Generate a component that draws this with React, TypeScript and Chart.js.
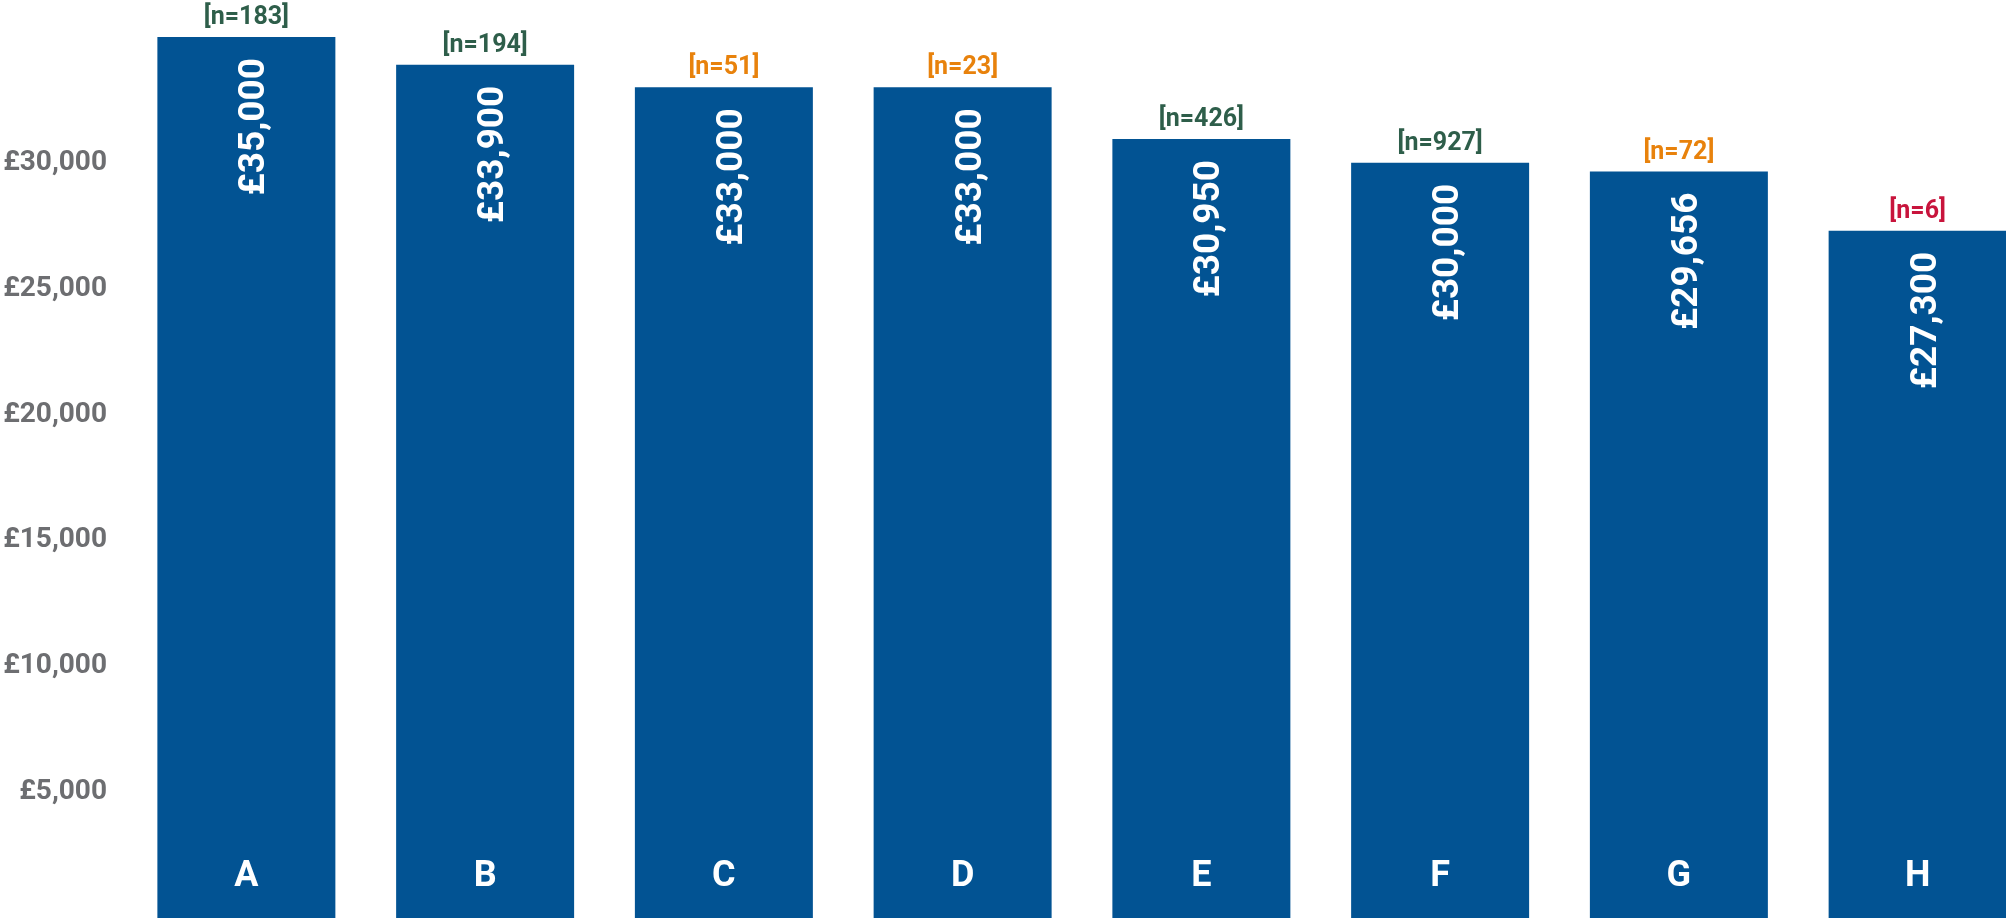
import React, { useEffect, useRef } from "react";
import { Chart, registerables } from "chart.js";

Chart.register(...registerables);

const categories = ["A", "B", "C", "D", "E", "F", "G", "H"];
const salaries = [35000, 33900, 33000, 33000, 30950, 30000, 29656, 27300];
const sampleSizes = [183, 194, 51, 23, 426, 927, 72, 6];
const sampleColours = [
  "#2e5e4a",
  "#2e5e4a",
  "#e8820c",
  "#e8820c",
  "#2e5e4a",
  "#2e5e4a",
  "#e8820c",
  "#c8143c",
];
const yTickValues = [5000, 10000, 15000, 20000, 25000, 30000];

const BAR_BLUE = "#025393";
const FONT = "Roboto, 'Noto Sans', sans-serif";

const fmt = (v: number) => "£" + v.toLocaleString("en-GB");

const labelPlugin = {
  id: "barLabels",
  afterDatasetsDraw(chart: any) {
    const ctx = chart.ctx as CanvasRenderingContext2D;
    const meta = chart.getDatasetMeta(0);
    meta.data.forEach((bar: any, i: number) => {
      const x = bar.x;
      const top = bar.y;
      const base = bar.base;
      ctx.save();
      // n labels above bars
      ctx.font = `bold 25px ${FONT}`;
      ctx.fillStyle = sampleColours[i];
      ctx.textAlign = "center";
      ctx.textBaseline = "alphabetic";
      ctx.fillText(`[n=${sampleSizes[i]}]`, x, top - 13);
      // category letters inside bar bottom
      ctx.font = `bold 36px ${FONT}`;
      ctx.fillStyle = "#ffffff";
      ctx.fillText(categories[i], x, base - 32);
      // rotated value labels
      ctx.translate(x, top + 21);
      ctx.rotate(-Math.PI / 2);
      ctx.textAlign = "right";
      ctx.textBaseline = "alphabetic";
      ctx.font = `bold 37px ${FONT}`;
      ctx.fillText(fmt(salaries[i]), 0, 18);
      ctx.restore();
    });
  },
};

export default function App() {
  const canvasRef = useRef<HTMLCanvasElement | null>(null);

  useEffect(() => {
    if (!canvasRef.current) return;
    const chart = new Chart(canvasRef.current, {
      type: "bar",
      data: {
        labels: categories,
        datasets: [
          {
            data: salaries,
            backgroundColor: BAR_BLUE,
            borderWidth: 0,
            categoryPercentage: 1,
            barPercentage: 0.7455,
          },
        ],
      },
      options: {
        animation: false,
        responsive: false,
        devicePixelRatio: 1,
        layout: { padding: 0 },
        plugins: {
          legend: { display: false },
          tooltip: { enabled: false },
        },
        scales: {
          x: { display: false },
          y: {
            min: 0,
            max: 36470,
            grid: { display: false, drawTicks: false },
            border: { display: false },
            afterBuildTicks: (scale: any) => {
              scale.ticks = yTickValues.map((v) => ({ value: v }));
            },
            afterFit: (scale: any) => {
              scale.width = 127;
              scale.paddingTop = 0;
              scale.paddingBottom = 0;
            },
            ticks: {
              padding: 20,
              color: "#6d6e71",
              font: { family: FONT, size: 28, weight: "bold" },
              callback: (v: any) => fmt(Number(v)),
            },
          },
        },
      },
      plugins: [labelPlugin],
    });
    return () => chart.destroy();
  }, []);

  return (
    <div
      style={{
        position: "fixed",
        left: 0,
        top: 0,
        width: 2006,
        height: 918,
        overflow: "hidden",
        background: "#ffffff",
      }}
    >
      <canvas
        ref={canvasRef}
        width={2037}
        height={918}
        style={{ display: "block", width: 2037, height: 918 }}
      />
    </div>
  );
}
